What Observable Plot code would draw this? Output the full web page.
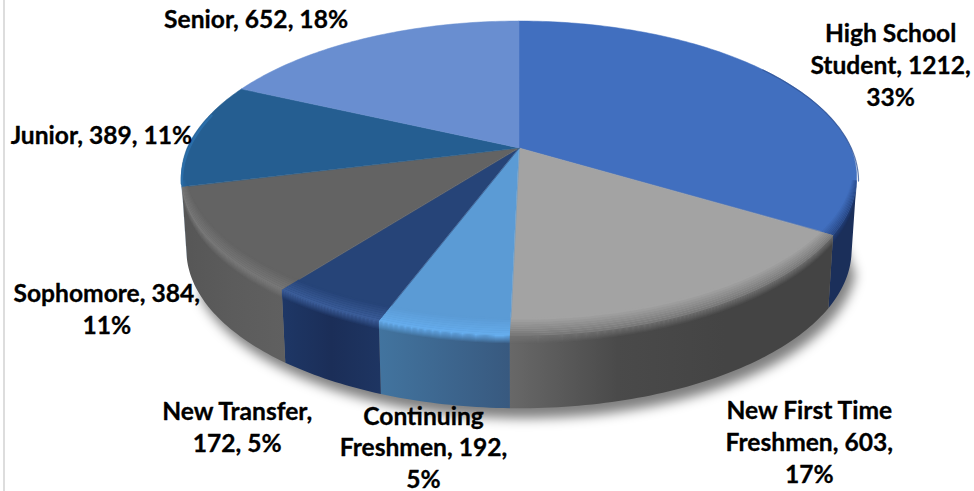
<!DOCTYPE html>
<html>
<head>
<meta charset="utf-8">
<style>html,body{margin:0;padding:0;background:#fff}svg{display:block}</style>
<script src="https://cdn.jsdelivr.net/npm/d3@7"></script>
<script src="https://cdn.jsdelivr.net/npm/@observablehq/plot@0.6"></script>
</head>
<body>
<script>
// Data
const categories = ["High School Student","New First Time Freshmen","Continuing Freshmen","New Transfer","Sophomore","Junior","Senior"];
const values = [1212,603,192,172,384,389,652];
const percents = [33,17,5,5,11,11,18];
const labelTexts = [
  `High School\nStudent, ${values[0]},\n${percents[0]}%`,
  `New First Time\nFreshmen, ${values[1]},\n${percents[1]}%`,
  `Continuing\nFreshmen, ${values[2]},\n${percents[2]}%`,
  `New Transfer,\n${values[3]}, ${percents[3]}%`,
  `Sophomore, ${values[4]},\n${percents[4]}%`,
  `Junior, ${values[5]}, ${percents[5]}%`,
  `Senior, ${values[6]}, ${percents[6]}%`
];

// Styles
const topColors = ["#416FBF","#A3A3A3","#5B9BD5","#264478","#636363","#255E91","#698ED0"];
const rimColors = ["#25437f","#747474","#66AEEF","#3D5F9C","#7A7A7A","#2A6DA8","#698ED0"];
const wallStops = [
  ["#1B2F5A","#1B2F5A"],
  ["#686868","#4A4A4A","#444444","#444444"],
  ["#42749F","#38597F"],
  ["#1E3766","#1B2E58","#1E3562"],
  ["#565656","#5C5C5C","#606060"],
  ["#255E91","#255E91"],
  ["#698ED0","#698ED0"]
];
const labelOffsets = [[108.5,-16.5],[95,129.5],[-17.6,110],[-86,115],[-100,65.5],[-94,-0.5],[-111,-20.5]];

// Perspective disc
const k = 0.204, R = 331.9, S = 152.9, cx = 519, cy = 148, depth = 73, inset = 0.985, rimPull = 0.02;
const rad = d => d * Math.PI / 180;
const total = d3.sum(values);
const cum = d3.cumsum(values);
const ends = Array.from(cum, c => c / total * 360);
const starts = ends.map((_, i) => i ? ends[i - 1] : 0);
const frontA = 180 / Math.PI * Math.acos(-k), frontStart = frontA, frontEnd = 360 - frontA;

const proj = (deg, r = 1) => {
  const u = r * Math.sin(rad(deg)), v = -r * Math.cos(rad(deg)), w = 1 - k * v;
  return [u / w, v / w];
};
const arc = (a, b) => {
  const n = Math.max(2, Math.ceil(Math.abs(b - a)));
  return d3.range(n + 1).map(i => a + (b - a) * i / n);
};
const rimR = d => 1 - rimPull * Math.max(0, -Math.cos(rad(d)));
const topPt = d => proj(d, rimR(d));
const bottomPt = d => { const p = topPt(d); return [p[0] * inset, p[1] + depth / S]; };
const front = i => [Math.max(starts[i], frontStart), Math.min(ends[i], frontEnd)];

const rimIn = 0.075, rimOut = 8;
const bandPt = (d, s) => {
  if (s <= 0) {
    const v = Math.max(0, -Math.cos(rad(d)));
    return proj(d, rimR(d) + s * rimIn * v);
  }
  const p = topPt(d);
  return [p[0], p[1] + s * rimOut / S];
};

// Gradient definitions for the walls
const defsMark = () => {
  const ns = "http://www.w3.org/2000/svg";
  const defs = document.createElementNS(ns, "defs");
  wallStops.forEach((stops, i) => {
    const g = document.createElementNS(ns, "linearGradient");
    g.setAttribute("id", "wall" + i);
    stops.forEach((c, j) => {
      const st = document.createElementNS(ns, "stop");
      st.setAttribute("offset", j / (stops.length - 1));
      st.setAttribute("stop-color", c);
      g.appendChild(st);
    });
    defs.appendChild(g);
  });
  return defs;
};

const marks = [defsMark];

// Left border
marks.push(Plot.ruleX([-cx / R], {dx: 3.5, stroke: "#DDDDDD", strokeWidth: 2}));

// Soft shadow
marks.push(Plot.area(arc(frontStart + 4, frontEnd - 12), {
  x1: d => bottomPt(d)[0] + 5 / R,
  y1: d => bottomPt(d)[1] + 10 / S,
  x2: d => proj(d)[0] * 0.9,
  y2: d => proj(d)[1] * 0.9,
  fill: "#000", fillOpacity: 0.5, imageFilter: "blur(6px)"
}));

// Walls
categories.forEach((_, i) => {
  const [a, b] = front(i);
  if (b <= a) return;
  marks.push(Plot.area(arc(a, b), {
    x1: d => topPt(d)[0], y1: d => topPt(d)[1],
    x2: d => bottomPt(d)[0], y2: d => bottomPt(d)[1],
    fill: `url(#wall${i})`
  }));
});

// Top face wedges
categories.forEach((_, i) => {
  marks.push(Plot.area(arc(starts[i], ends[i]), {
    x1: d => topPt(d)[0], y1: d => topPt(d)[1],
    x2: () => 0, y2: () => 0,
    fill: topColors[i], stroke: topColors[i], strokeWidth: 0.5
  }));
});

// Bevel
const steps = d3.range(-1, 1, 0.125);
categories.forEach((_, i) => {
  const [a, b] = front(i);
  if (b <= a) return;
  const mix = d3.interpolateRgb(topColors[i], rimColors[i]);
  steps.forEach(s => {
    const s2 = s + 0.125;
    const opaque = s < 0;
    const fill = opaque ? mix(s + 1) : rimColors[i];
    marks.push(Plot.area(arc(a, b), {
      x1: d => bandPt(d, s)[0], y1: d => bandPt(d, s)[1],
      x2: d => bandPt(d, s2)[0], y2: d => bandPt(d, s2)[1],
      fill,
      fillOpacity: opaque ? 1 : 1 - s
    }));
  });
});

// Thin rim shading on the back arc
marks.push(Plot.line(arc(55, frontStart), {
  x: d => proj(d)[0], y: d => proj(d)[1], stroke: "#2C4F91", strokeWidth: 1.2, strokeOpacity: 0.75
}));
marks.push(Plot.line(arc(frontEnd - 1, 283), {
  x: d => proj(d, 0.996)[0], y: d => proj(d, 0.996)[1], stroke: "#2A6DA8", strokeWidth: 2.5
}));

// Labels
categories.forEach((c, i) => {
  const mid = (starts[i] + ends[i]) / 2;
  marks.push(Plot.text([labelTexts[i]], {
    x: () => proj(mid)[0], y: () => proj(mid)[1],
    text: d => d,
    dx: labelOffsets[i][0], dy: labelOffsets[i][1],
    fontFamily: "Lato", fontWeight: 700, fontSize: 24.6, lineHeight: 1.3,
    fill: "#000", stroke: "#000", strokeWidth: 0.3, textAnchor: "middle", lineAnchor: "middle"
  }));
});

const chart = Plot.plot({
  width: 974, height: 491,
  margin: 0,
  x: {domain: [-cx / R, (974 - cx) / R], range: [0, 974], axis: null},
  y: {domain: [-cy / S, (491 - cy) / S], range: [0, 491], axis: null},
  style: {background: "#fff"},
  marks
});
document.body.appendChild(chart);
</script>
</body>
</html>
